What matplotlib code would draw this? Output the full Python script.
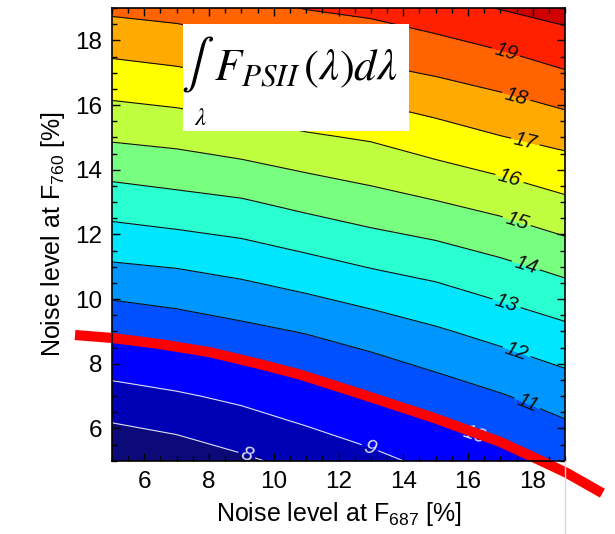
import numpy as np
import matplotlib.pyplot as plt
from matplotlib.patches import Rectangle
from matplotlib.lines import Line2D
from matplotlib.ticker import MultipleLocator

plt.rcParams['font.family'] = ['Liberation Sans', 'DejaVu Sans']
plt.rcParams['mathtext.fontset'] = 'custom'
plt.rcParams['mathtext.rm'] = 'Liberation Sans'
plt.rcParams['mathtext.it'] = 'Liberation Sans:italic'

# noise levels [%] on the two grid axes
noise_687 = [5, 7, 9, 11, 13, 15, 17, 19]
noise_760 = [5, 7, 9, 11, 13, 15, 17, 19]

# integrated F_PSII, rows follow noise_760, columns follow noise_687
fpsii = np.array([
    [7.10, 7.40, 7.84, 8.30, 8.74, 9.26, 9.68, 10.23],
    [8.63, 8.88, 9.20, 9.60, 10.03, 10.48, 10.93, 11.42],
    [10.17, 10.44, 10.75, 11.06, 11.45, 11.88, 12.32, 12.77],
    [11.88, 12.04, 12.30, 12.66, 13.04, 13.34, 13.78, 14.26],
    [13.48, 13.70, 13.90, 14.28, 14.63, 14.96, 15.34, 15.83],
    [15.12, 15.28, 15.56, 15.87, 16.10, 16.54, 16.96, 17.31],
    [16.66, 16.85, 17.12, 17.40, 17.78, 18.09, 18.44, 18.93],
    [18.20, 18.36, 18.65, 19.04, 19.24, 19.60, 20.04, 20.40],
])

levels = list(range(8, 21))
band_colors = ['#0c0a78', '#0000b4', '#0000ff', '#0050ff', '#0096ff',
               '#00e6ff', '#2affd2', '#78ff80', '#c0ff40', '#ffff00',
               '#ffaa00', '#ff6400', '#ff2000', '#d00000']

# where each contour label sits (levels 8..19)
label_pos = [(9.2, 5.28), (13.0, 5.5), (16.2, 5.85), (17.84, 6.8),
             (17.5, 8.36), (17.2, 9.9), (17.8, 11.1), (17.5, 12.4),
             (17.3, 13.8), (17.8, 15.0), (17.5, 16.3), (17.2, 17.75)]

# threshold curve
red_x = [3.86, 5.0, 6.48, 8.02, 9.57, 10.8, 12.65, 14.91, 16.98, 18.0, 19.04, 20.15]
red_y = [8.89, 8.80, 8.61, 8.36, 7.99, 7.67, 7.08, 6.34, 5.59, 5.12, 4.63, 4.00]

fig = plt.figure(figsize=(6.15, 5.34), dpi=100)
ax = fig.add_axes([0.182, 0.137, 0.737, 0.848])

X, Y = np.meshgrid(noise_687, noise_760)
fill_levels = [fpsii.min() - 1] + levels + [fpsii.max() + 1]
ax.contourf(X, Y, fpsii, levels=fill_levels, colors=band_colors)
line_colors = ['#e0e0f0' if lv <= 10 else '#101010' for lv in levels]
cs = ax.contour(X, Y, fpsii, levels=levels, colors=line_colors, linewidths=0.8)
lbls = ax.clabel(cs, fmt='%d', fontsize=15, manual=label_pos, inline=True,
                 inline_spacing=3)
for t in lbls:
    t.set_fontstyle('italic')

ax.plot(red_x, red_y, color='red', lw=7.3, clip_on=False,
        solid_capstyle='butt', zorder=6)

ax.set_xlim(5, 19)
ax.set_ylim(5, 19)
ax.xaxis.set_major_locator(MultipleLocator(2))
ax.yaxis.set_major_locator(MultipleLocator(2))
ax.xaxis.set_minor_locator(MultipleLocator(0.5))
ax.yaxis.set_minor_locator(MultipleLocator(0.5))
ax.tick_params(which='both', direction='in', top=True, right=True,
               labelsize=17.5, width=1)
ax.tick_params(which='major', length=6, pad=7)
ax.tick_params(which='minor', length=3.5)
for sp in ax.spines.values():
    sp.set_linewidth(1.2)
    sp.set_zorder(7)

ax.set_xlabel('Noise level at F$_{687}$ [%]', fontsize=18, labelpad=5)
ax.set_ylabel('Noise level at F$_{760}$ [%]', fontsize=18, labelpad=6)

# formula box
ax.add_patch(Rectangle((0.157, 0.728), 0.499, 0.237, transform=ax.transAxes,
                       facecolor='white', edgecolor='none', zorder=5))
ax.text(0.19, 0.875, r'$\int$', transform=ax.transAxes, fontsize=35,
        math_fontfamily='stix', ha='center', va='center', zorder=6)
ax.text(0.195, 0.758, r'$\lambda$', transform=ax.transAxes, fontsize=18,
        math_fontfamily='stix', ha='center', va='center', zorder=6)
ax.text(0.225, 0.865, r'$F_{PSII}\,\left(\lambda\right)d\lambda$',
        transform=ax.transAxes, fontsize=32, math_fontfamily='stix',
        ha='left', va='center', zorder=6)

fig.add_artist(Line2D([0.919, 0.919], [0.0, 0.137], color='#d8d8d8', lw=1))

fig.savefig('out.png', dpi=100)
